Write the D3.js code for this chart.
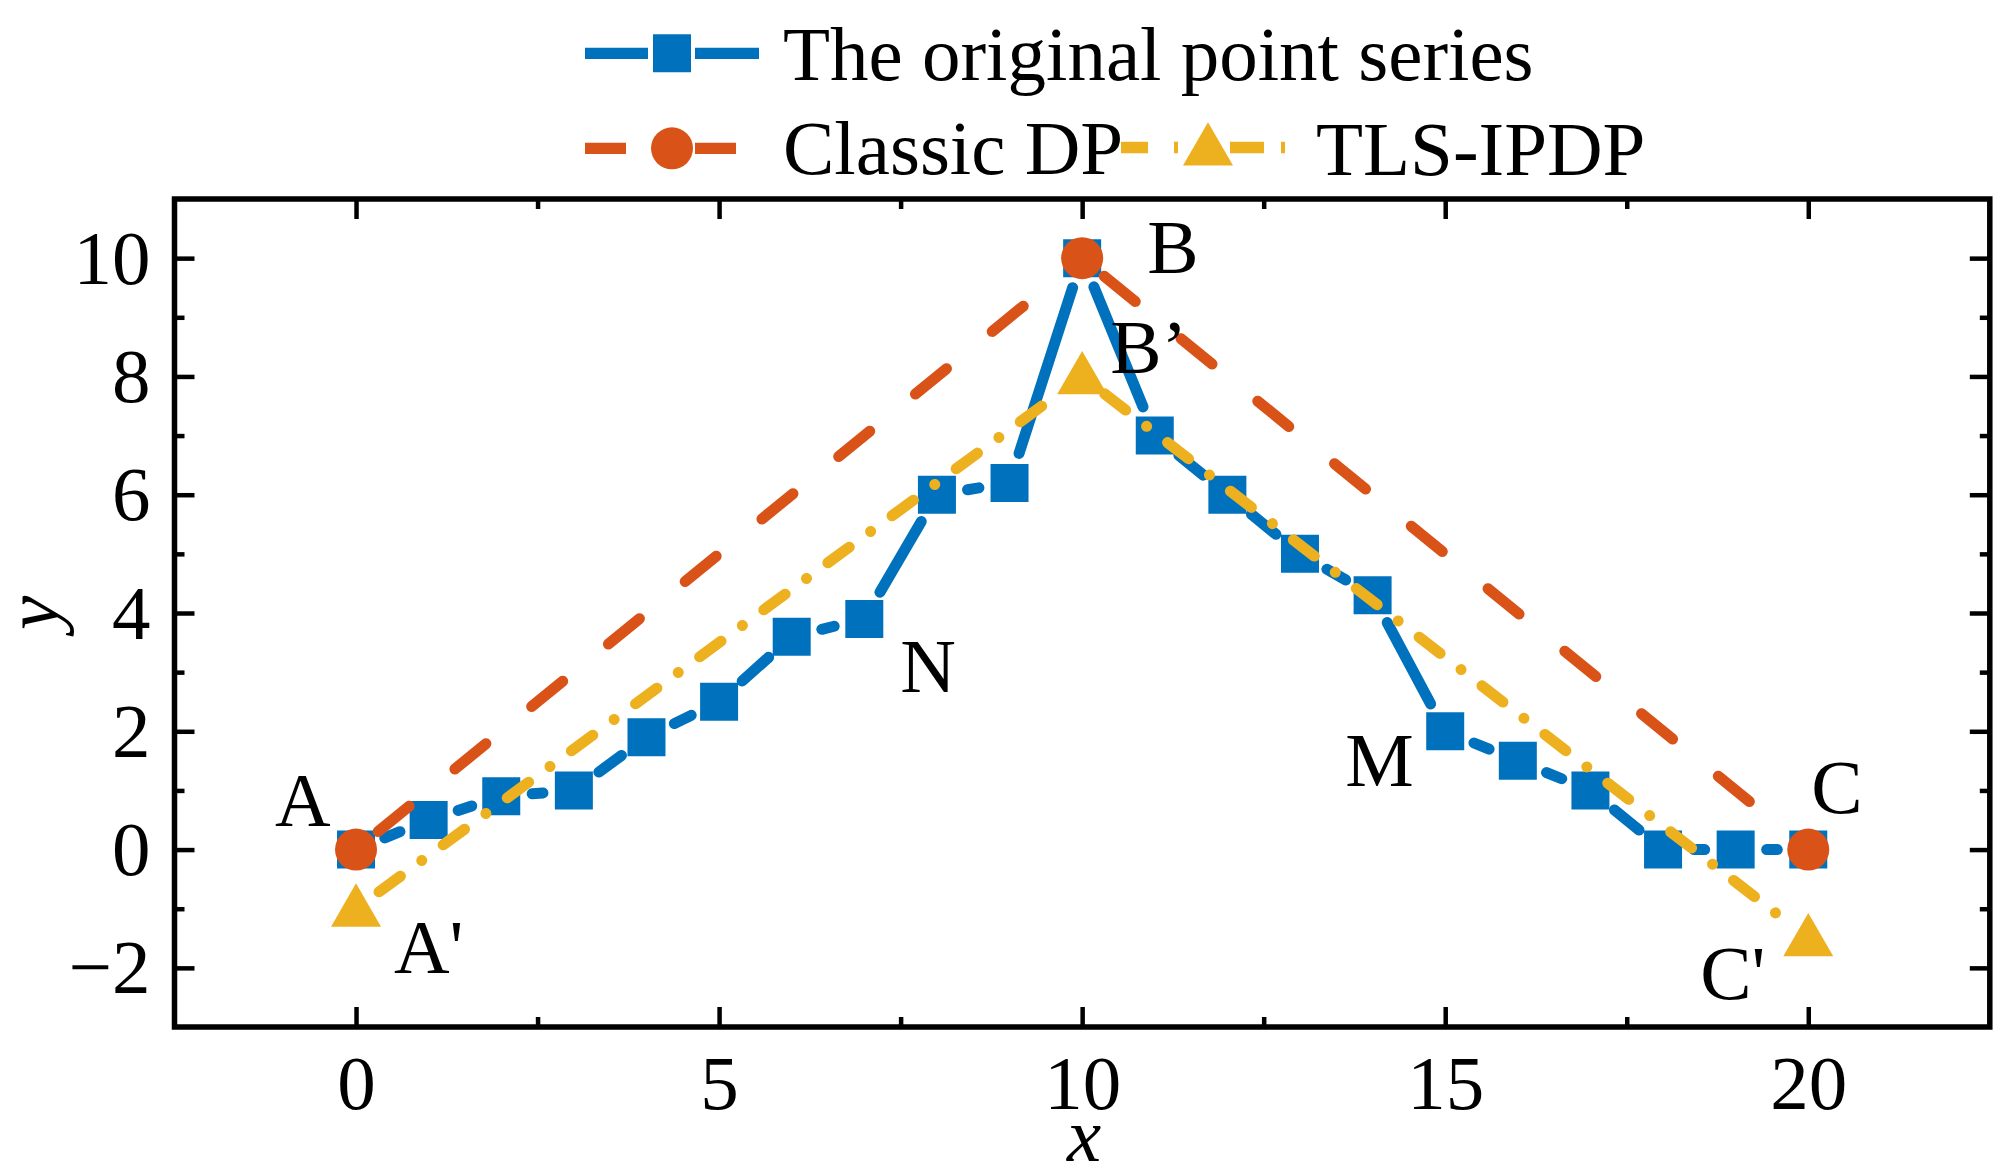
<!DOCTYPE html>
<html>
<head>
<meta charset="utf-8">
<script src="https://cdn.jsdelivr.net/npm/d3@7"></script>
<style>
  body { margin: 0; background: #fff; }
  text { font-family: "Liberation Serif", "Times New Roman", serif; fill: #000; }
</style>
</head>
<body>
<script>
// ---------- data ----------
var originalX = [0, 1, 2, 3, 4, 5, 6, 7, 8, 9, 10, 11, 12, 13, 14, 15, 16, 17, 18, 19, 20];
var originalY = [0, 0.5, 0.9, 1.0, 1.9, 2.5, 3.6, 3.9, 6.0, 6.2, 10, 7.0, 6.0, 5.0, 4.3, 2.0, 1.5, 1.0, 0, 0, 0];
var classicX = [0, 10, 20];
var classicY = [0, 10, 0];
var tlsX = [0, 10, 20];
var tlsY = [-1, 8, -1.5];

var seriesNames = ["The original point series", "Classic DP", "TLS-IPDP"];

var xTicks = [0, 5, 10, 15, 20];
var xMinorTicks = [2.5, 7.5, 12.5, 17.5];
var yTicks = [-2, 0, 2, 4, 6, 8, 10];
var yMinorTicks = [-1, 1, 3, 5, 7, 9];

var pointNames = ["A", "A'", "B", "B\u2019", "N", "M", "C", "C'"];
var pointX = [0, 0, 10, 10, 7, 15, 20, 20];
var pointY = [0, -1, 10, 8, 3.9, 2, 0, -1.5];

// ---------- layout ----------
var width = 2000, height = 1170;
var plotLeft = 174.5, plotRight = 1989.8, plotTop = 199, plotBottom = 1027;
var fontSize = 77;
var blue = "#0072BD", orange = "#D95319", yellow = "#EDB120";

var x = d3.scaleLinear().domain([-2.5, 22.5]).range([plotLeft, plotRight]);
var y = d3.scaleLinear().domain([-3, 11]).range([plotBottom, plotTop]);

var svg = d3.select("body").append("svg")
    .attr("width", width)
    .attr("height", height);

//Line between two points, cut short near each marker (Origin "gap to symbol")
function gapSegment(x1, y1, x2, y2, gap) {
    var dx = x2 - x1, dy = y2 - y1;
    var len = Math.sqrt(dx * dx + dy * dy);
    if (len <= 2 * gap) return null;
    var ux = dx / len, uy = dy / len;
    var p = d3.path();
    p.moveTo(x1 + ux * gap, y1 + uy * gap);
    p.lineTo(x2 - ux * gap, y2 - uy * gap);
    return p.toString();
}

function drawSeries(xs, ys, color, dash, gap) {
    var pts = xs.map(function (v, i) { return [x(v), y(ys[i])]; });
    var segs = [];
    for (var i = 0; i < pts.length - 1; i++) {
        var d = gapSegment(pts[i][0], pts[i][1], pts[i + 1][0], pts[i + 1][1], gap);
        if (d) segs.push(d);
    }
    svg.append("g").selectAll("path")
        .data(segs)
        .enter().append("path")
        .attr("d", function (d) { return d; })
        .attr("fill", "none")
        .attr("stroke", color)
        .attr("stroke-width", 11)
        .attr("stroke-linecap", "round")
        .attr("stroke-dasharray", dash);
    return pts;
}

var squareSym = d3.symbol().type(d3.symbolSquare).size(38 * 38);
var circleSym = d3.symbol().type(d3.symbolCircle).size(Math.PI * 21 * 21);
var triangleSym = d3.symbol().type(d3.symbolTriangle).size(Math.sqrt(3) / 4 * 50 * 50);

function drawMarkers(pts, sym, color, shift) {
    svg.append("g").selectAll("path")
        .data(pts)
        .enter().append("path")
        .attr("transform", function (p) { return "translate(" + p[0] + "," + (p[1] + shift) + ")"; })
        .attr("d", sym)
        .attr("fill", color);
}

//Series: line first, then its symbols
var bluePts = drawSeries(originalX, originalY, blue, null, 31);
drawMarkers(bluePts, squareSym, blue, 0);

var orangePts = drawSeries(classicX, classicY, orange, "40,59", 28.5);
drawMarkers(orangePts, circleSym, orange, 0);

var yellowPts = drawSeries(tlsX, tlsY, yellow, "26.5,26.5,0.01,26.5", 28.5);
drawMarkers(yellowPts, triangleSym, yellow, 3.5);

//Axes frame with inward ticks on all four sides
function styleAxis(g) {
    g.select(".domain").remove();
    g.selectAll(".tick line").attr("stroke", "#000").attr("stroke-width", 4.5);
}

svg.append("g")
    .attr("transform", "translate(0," + plotBottom + ")")
    .call(d3.axisBottom(x).tickValues(xTicks).tickSizeInner(-20).tickSizeOuter(0))
    .call(styleAxis)
    .call(function (g) {
        g.selectAll("text")
            .attr("y", 82).attr("dy", null)
            .style("font-size", fontSize + "px")
            .style("font-family", "'Liberation Serif', serif");
    });
svg.append("g")
    .attr("transform", "translate(0," + plotBottom + ")")
    .call(d3.axisBottom(x).tickValues(xMinorTicks).tickSizeInner(-10).tickSizeOuter(0).tickFormat(""))
    .call(styleAxis);
svg.append("g")
    .attr("transform", "translate(0," + plotTop + ")")
    .call(d3.axisTop(x).tickValues(xTicks).tickSizeInner(-20).tickSizeOuter(0).tickFormat(""))
    .call(styleAxis);
svg.append("g")
    .attr("transform", "translate(0," + plotTop + ")")
    .call(d3.axisTop(x).tickValues(xMinorTicks).tickSizeInner(-10).tickSizeOuter(0).tickFormat(""))
    .call(styleAxis);

svg.append("g")
    .attr("transform", "translate(" + plotLeft + ",0)")
    .call(d3.axisLeft(y).tickValues(yTicks).tickSizeInner(-20).tickSizeOuter(0))
    .call(styleAxis)
    .call(function (g) {
        g.selectAll("text")
            .attr("x", -24).attr("dy", null).attr("y", 25)
            .style("font-size", fontSize + "px")
            .style("font-family", "'Liberation Serif', serif");
    });
svg.append("g")
    .attr("transform", "translate(" + plotLeft + ",0)")
    .call(d3.axisLeft(y).tickValues(yMinorTicks).tickSizeInner(-10).tickSizeOuter(0).tickFormat(""))
    .call(styleAxis);
svg.append("g")
    .attr("transform", "translate(" + plotRight + ",0)")
    .call(d3.axisRight(y).tickValues(yTicks).tickSizeInner(-20).tickSizeOuter(0).tickFormat(""))
    .call(styleAxis);
svg.append("g")
    .attr("transform", "translate(" + plotRight + ",0)")
    .call(d3.axisRight(y).tickValues(yMinorTicks).tickSizeInner(-10).tickSizeOuter(0).tickFormat(""))
    .call(styleAxis);

svg.append("rect")
    .attr("x", plotLeft).attr("y", plotTop)
    .attr("width", plotRight - plotLeft).attr("height", plotBottom - plotTop)
    .attr("fill", "none")
    .attr("stroke", "#000")
    .attr("stroke-width", 5.5);

//Axis titles
svg.append("text")
    .attr("x", (plotLeft + plotRight) / 2 + 2).attr("y", 1161)
    .attr("text-anchor", "middle")
    .style("font-size", fontSize + "px")
    .style("font-style", "italic")
    .text("x");
svg.append("text")
    .attr("transform", "translate(58," + ((plotTop + plotBottom) / 2) + ") rotate(-90)")
    .attr("text-anchor", "middle")
    .style("font-size", fontSize + "px")
    .style("font-style", "italic")
    .text("y");

//Point annotations, offsets in pixels from their anchor point
var labelOffsets = [[-81, -24], [38, 64], [65, 15], [28, -3], [36, 73], [-100, 55], [3, -37], [-108, 61]];
svg.append("g").selectAll("text")
    .data(pointNames)
    .enter().append("text")
    .attr("x", function (d, i) { return x(pointX[i]) + labelOffsets[i][0]; })
    .attr("y", function (d, i) { return y(pointY[i]) + labelOffsets[i][1]; })
    .style("font-size", fontSize + "px")
    .text(function (d) { return d; });

//Legend
var legendItems = [
    { name: seriesNames[0], color: blue, sym: squareSym, shift: 0, x0: 585, x1: 759, cy: 53.3, tx: 783, ty: 80,
      pieces: [[585, 648, null], [695, 759, null]] },
    { name: seriesNames[1], color: orange, sym: circleSym, shift: 0, x0: 585, x1: 759, cy: 148.3, tx: 783, ty: 174,
      pieces: [[585, 626, null], [695, 736, null]] },
    { name: seriesNames[2], color: yellow, sym: triangleSym, shift: 3.5, x0: 1121, x1: 1295, cy: 147.5, tx: 1316, ty: 175,
      pieces: [[1121, 1182, "27,26,4,40"], [1230, 1295, "34,17,4,30"]] }
];

legendItems.forEach(function (item) {
    var g = svg.append("g");
    item.pieces.forEach(function (pc) {
        g.append("line")
            .attr("x1", pc[0]).attr("x2", pc[1])
            .attr("y1", item.cy).attr("y2", item.cy)
            .attr("stroke", item.color)
            .attr("stroke-width", 11.3)
            .attr("stroke-dasharray", pc[2]);
    });
    g.append("path")
        .attr("transform", "translate(" + ((item.x0 + item.x1) / 2) + "," + (item.cy + item.shift) + ")")
        .attr("d", item.sym)
        .attr("fill", item.color);
    g.append("text")
        .attr("x", item.tx).attr("y", item.ty)
        .style("font-size", fontSize + "px")
        .text(item.name);
});
</script>
</body>
</html>
